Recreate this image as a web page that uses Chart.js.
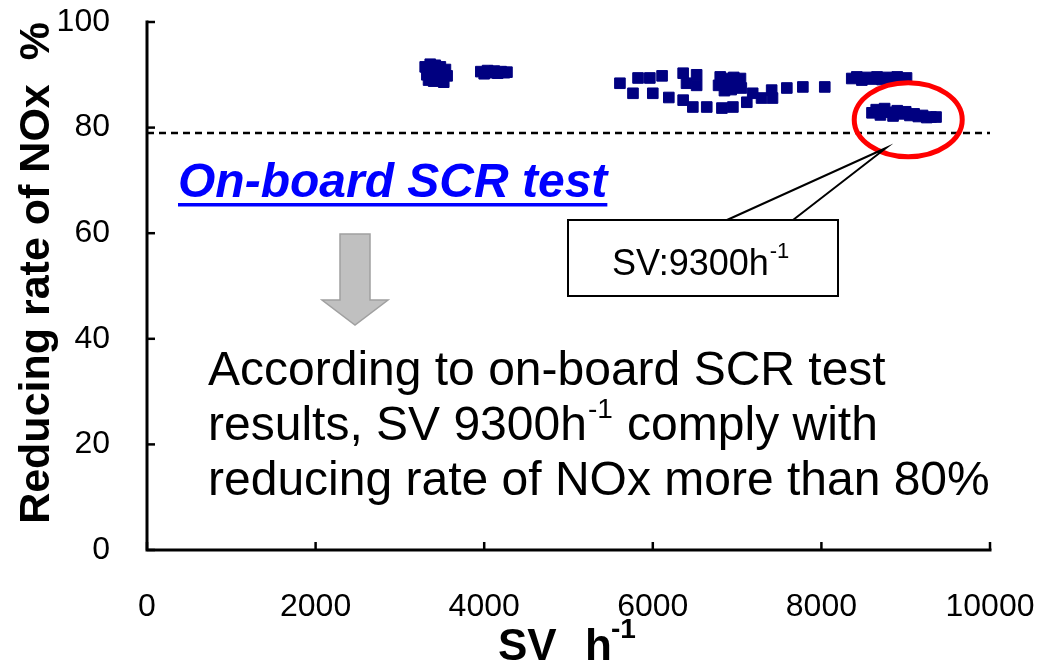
<!DOCTYPE html>
<html>
<head>
<meta charset="utf-8">
<script src="https://cdn.jsdelivr.net/npm/chart.js@4.4.1/dist/chart.umd.min.js"></script>
<style>
  body { margin: 0; background: #fff; }
  canvas { display: block; }
</style>
</head>
<body>
<canvas id="miGrafico" width="1054" height="662"></canvas>
<script>
// SV (h-1) and NOx reducing rate (%)
var svValues = [
  3300, 3320, 3340, 3360, 3380, 3400, 3420, 3440, 3460, 3480, 3500, 3520, 3540, 3560,
  3960, 4000, 4040, 4080, 4120, 4160, 4200, 4240, 4270,
  5610, 5825, 5965, 6110, 5765, 6000, 6190, 6360, 6360, 6520, 6475, 6640, 6400, 6520,
  6780, 6800, 6850, 6880, 6900, 6930, 6960, 7000, 7040, 7050,
  6820, 6950, 7115, 7185, 7290, 7410, 7420, 7590, 7780, 8040,
  8360, 8420, 8480, 8540, 8600, 8660, 8720, 8780, 8840, 8900, 8960, 9010,
  8600, 8650, 8700, 8750, 8800, 8850, 8900, 8950, 9000, 9050, 9100, 9150, 9200, 9250, 9300, 9360
];
var noxValues = [
  91.5, 90, 89, 92, 90.5, 88.8, 91.8, 90, 89.2, 91.5, 90.2, 88.6, 91, 89.8,
  90.6, 90.2, 90.8, 90.4, 90.7, 90.3, 90.6, 90.4, 90.5,
  88.4, 89.4, 89.4, 89.8, 86.5, 86.5, 85.7, 90.3, 85.2, 90, 83.9, 83.9, 88.4, 88,
  88, 89.6, 87, 89.3, 88.2, 87.2, 89.5, 88.6, 89.3, 87.5,
  83.7, 83.9, 84.8, 86.5, 85.6, 87.1, 85.6, 87.5, 87.7, 87.7,
  89.3, 89.6, 89, 89.5, 89.2, 89.6, 89.1, 89.5, 89.3, 89.6, 89.2, 89.4,
  82.8, 83.4, 82.4, 83.6, 82.9, 82.2, 83.2, 82.6, 83, 82.3, 82.6, 82.1, 82.3, 81.9, 82, 82
];
var xTicks = [0, 2000, 4000, 6000, 8000, 10000];
var yTicks = [0, 20, 40, 60, 80, 100];
var limitLine = 79;

var fuente = "'Liberation Sans', Arial, sans-serif";

var puntos = svValues.map(function(sv, i) { return { x: sv, y: noxValues[i] }; });

// axes with inward ticks, titles and the slide annotations
var dibujos = {
  id: 'dibujos',
  afterDraw: function(chart) {
    var c = chart.ctx;
    var xs = chart.scales.x, ys = chart.scales.y;
    var a = chart.chartArea;
    c.save();

    // dashed 80% line
    var yl = ys.getPixelForValue(limitLine);
    c.strokeStyle = '#000';
    c.lineWidth = 2.5;
    c.setLineDash([7, 5]);
    c.beginPath(); c.moveTo(a.left, yl); c.lineTo(a.right, yl); c.stroke();
    c.setLineDash([]);

    // axes
    c.lineWidth = 3;
    c.lineCap = 'square';
    c.beginPath();
    c.moveTo(a.left, a.top); c.lineTo(a.left, a.bottom); c.lineTo(a.right, a.bottom);
    c.stroke();
    c.lineWidth = 2.5;
    c.lineCap = 'butt';
    yTicks.forEach(function(v) {
      var y = ys.getPixelForValue(v);
      c.beginPath(); c.moveTo(a.left, y); c.lineTo(a.left + 8, y); c.stroke();
    });
    xTicks.forEach(function(v) {
      var x = xs.getPixelForValue(v);
      c.beginPath(); c.moveTo(x, a.bottom); c.lineTo(x, a.bottom - 8); c.stroke();
    });

    // y title
    c.fillStyle = '#000';
    c.save();
    c.translate(49, 273);
    c.rotate(-Math.PI / 2);
    c.font = 'bold 43px ' + fuente;
    c.textAlign = 'center';
    c.textBaseline = 'alphabetic';
    c.fillText('Reducing rate of NOx  %', 0, 0);
    c.restore();

    // x title with superscript
    c.font = 'bold 44px ' + fuente;
    c.textAlign = 'left';
    c.textBaseline = 'alphabetic';
    c.fillText('SV', 498, 660);
    c.fillText('h', 585, 660);
    c.font = 'bold 28px ' + fuente;
    c.fillText('-1', 611, 638);

    // red ellipse round the 9300 points
    c.strokeStyle = '#ff0000';
    c.lineWidth = 5;
    c.beginPath();
    c.ellipse(xs.getPixelForValue(9030), ys.getPixelForValue(81.5), 54, 37, 0, 0, Math.PI * 2);
    c.stroke();

    // callout
    var tipX = 886, tipY = 148;
    c.fillStyle = '#fff';
    c.strokeStyle = '#000';
    c.lineWidth = 2;
    c.beginPath();
    c.moveTo(727, 220); c.lineTo(tipX, tipY); c.lineTo(793, 220);
    c.stroke();
    c.fillRect(568, 220, 270, 76);
    c.strokeRect(568, 220, 270, 76);
    c.fillStyle = '#000';
    c.font = '36px ' + fuente;
    c.fillText('SV:9300h', 612, 275);
    var w1 = c.measureText('SV:9300h').width;
    c.font = '22px ' + fuente;
    c.fillText('-1', 612 + w1 + 1, 258);

    // heading
    c.fillStyle = '#0000ff';
    c.font = 'italic bold 48px ' + fuente;
    c.fillText('On-board SCR test', 178, 197);
    var wh = c.measureText('On-board SCR test').width;
    c.fillRect(178, 203, wh, 3.5);

    // grey arrow
    c.fillStyle = '#c0c0c0';
    c.strokeStyle = '#a0a0a0';
    c.lineWidth = 1.5;
    c.beginPath();
    c.moveTo(340, 234); c.lineTo(370, 234); c.lineTo(370, 300); c.lineTo(388, 300);
    c.lineTo(355, 325); c.lineTo(322, 300); c.lineTo(340, 300); c.closePath();
    c.fill(); c.stroke();

    // conclusion text
    c.fillStyle = '#000';
    c.font = '48px ' + fuente;
    c.fillText('According to on-board SCR test', 208, 385);
    c.fillText('results, SV 9300h', 208, 440);
    var w2 = c.measureText('results, SV 9300h').width;
    c.font = '28px ' + fuente;
    c.fillText('-1', 208 + w2 + 1, 418);
    var w3 = c.measureText('-1').width;
    c.font = '48px ' + fuente;
    c.fillText(' comply with', 208 + w2 + w3 + 2, 440);
    c.fillText('reducing rate of NOx more than 80%', 208, 495);

    c.restore();
  }
};

var miGrafico = new Chart(document.getElementById('miGrafico'), {
  type: 'scatter',
  data: {
    datasets: [{
      label: 'NOx',
      data: puntos,
      pointStyle: 'rect',
      pointRadius: 7.5,
      pointHoverRadius: 7.5,
      backgroundColor: '#000080',
      borderColor: '#000080',
      borderWidth: 1
    }]
  },
  options: {
    responsive: false,
    animation: false,
    events: [],
    layout: { padding: { top: 22, right: 64, left: 0, bottom: 0 } },
    plugins: { legend: { display: false }, tooltip: { enabled: false } },
    scales: {
      x: {
        type: 'linear',
        min: 0, max: 10000,
        afterBuildTicks: function(s) { s.ticks = xTicks.map(function(v) { return { value: v }; }); },
        afterFit: function(s) { s.height = 112; s.paddingLeft = 0; s.paddingRight = 0; },
        grid: { display: false },
        border: { display: false },
        ticks: {
          color: '#000', font: { family: fuente, size: 32 }, padding: 30, maxRotation: 0,
          callback: function(v) { return String(v); }
        }
      },
      y: {
        min: 0, max: 100,
        afterBuildTicks: function(s) { s.ticks = yTicks.map(function(v) { return { value: v }; }); },
        afterFit: function(s) { s.width = 147; s.paddingTop = 0; s.paddingBottom = 0; },
        grid: { display: false },
        border: { display: false },
        ticks: { color: '#000', font: { family: fuente, size: 32 }, padding: 29 }
      }
    }
  },
  plugins: [dibujos]
});
</script>
</body>
</html>
